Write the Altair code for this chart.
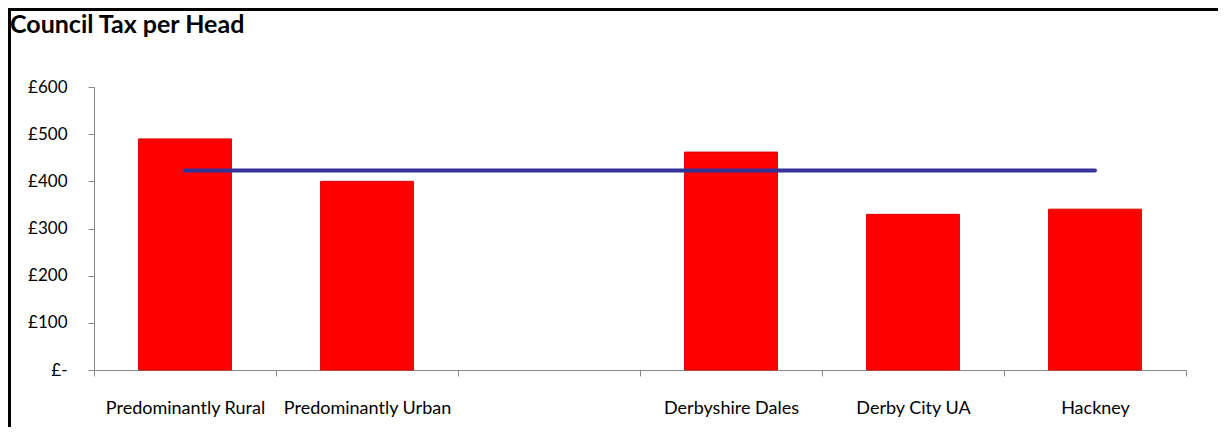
import altair as alt
import pandas as pd

categories = ["Predominantly Rural", "Predominantly Urban", " ", "Derbyshire Dales", "Derby City UA", "Hackney"]
tax_per_head = [490, 400, None, 462, 330, 341]
average_line = [423, 423, 423, 423, 423, 423]
y_ticks = [0, 100, 200, 300, 400, 500, 600]
chart_title = "Council Tax per Head"

df = pd.DataFrame({"category": categories, "tax": tax_per_head, "avg": average_line})
one_row = pd.DataFrame({"t": [chart_title]})

FONT = "Lato"

x_enc = alt.X(
    "category:N",
    sort=categories,
    scale=alt.Scale(paddingInner=0, paddingOuter=0),
    axis=alt.Axis(
        title=None, labelAngle=0, tickBand="extent", domainColor="#888888",
        tickColor="#888888", tickSize=6, labelPadding=23, labelFontSize=18,
        labelFont=FONT, labelColor="#000000", grid=False,
    ),
)

y_scale = alt.Scale(domain=[0, 600], nice=False)

bars = alt.Chart(df).mark_bar(
    color="#ff0000", stroke="#dd0000", strokeWidth=1, width=alt.RelativeBandSize(0.51)
).encode(
    x=x_enc,
    y=alt.Y(
        "tax:Q", scale=y_scale,
        axis=alt.Axis(
            title=None, values=y_ticks, grid=False, domainColor="#888888",
            tickColor="#888888", tickSize=6, labelPadding=21, labelFontSize=17,
            labelFont=FONT, labelColor="#000000",
            labelExpr="datum.value == 0 ? '£-' : '£' + datum.value",
        ),
    ),
)

line = alt.Chart(df).mark_line(color="#333399", strokeWidth=4, strokeCap="round").encode(
    x=alt.X("category:N", sort=categories),
    y=alt.Y("avg:Q", scale=y_scale),
)

frame_top = alt.Chart(one_row).mark_rect(color="#000000", strokeWidth=0).encode(
    x=alt.value(-86), x2=alt.value(1124), y=alt.value(-79), y2=alt.value(-76)
)
frame_left = alt.Chart(one_row).mark_rect(color="#000000", strokeWidth=0).encode(
    x=alt.value(-86), x2=alt.value(-83), y=alt.value(-79), y2=alt.value(340)
)

title = alt.Chart(one_row).mark_text(
    font=FONT, fontSize=25, fontWeight="bold", color="#000000", align="left", baseline="alphabetic"
).encode(
    x=alt.value(-84), y=alt.value(-54), text="t:N"
)

chart = alt.layer(bars, line, frame_top, frame_left, title).properties(
    width=1092,
    height=283,
    autosize=alt.AutoSizeParams(type="none"),
    padding={"left": 86, "top": 79, "right": 32, "bottom": 57},
).configure_view(stroke=None)

chart.save("out.html", embed_options={"renderer": "svg", "actions": False})
